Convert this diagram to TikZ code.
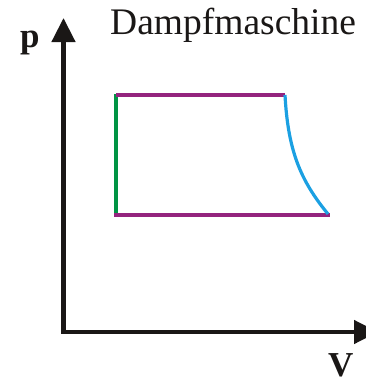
\documentclass[tikz,border=0pt]{standalone}
\usepackage{fontspec}
\setmainfont{Liberation Serif}
\usetikzlibrary{arrows.meta}
\definecolor{axiscol}{RGB}{26,23,22}
\definecolor{purplecol}{RGB}{148,36,126}
\definecolor{greencol}{RGB}{0,148,68}
\definecolor{bluecol}{RGB}{27,160,226}
\begin{document}
\begin{tikzpicture}[x=1pt,y=-1pt,
  axis/.style={line width=4.5pt,draw=axiscol,line join=miter,
    {Triangle[width=23pt,length=24pt]}-{Triangle[width=23pt,length=24pt]}},
  isobar/.style={line width=4pt,draw=purplecol},
  isochor/.style={line width=4pt,draw=greencol},
  expansion/.style={line width=3.2pt,draw=bluecol},
  lbl/.style={inner sep=0pt,anchor=base west,text=axiscol}]
\useasboundingbox (0,0) rectangle (366,378);
\coordinate (ytip) at (63.5,18);
\coordinate (origin) at (63.5,332);
\coordinate (xtip) at (378,332);
\draw[axis] (ytip) -- (origin) -- (xtip);
\coordinate (A) at (116,94);
\coordinate (B) at (116,216);
\coordinate (C) at (116,95);
\coordinate (D) at (285,95);
\coordinate (E) at (114,215);
\coordinate (F) at (330,215);
\coordinate (G) at (328,214);
\draw[isochor] (A) -- (B);
\draw[isobar] (C) -- (D);
\draw[isobar] (E) -- (F);
\draw[expansion] (D) .. controls (288,150) and (300,180) .. (G);
\node[lbl,font=\fontsize{37.5}{40}\selectfont] (title) at (110,34) {Dampfmaschine};
\node[lbl,font=\fontsize{35}{40}\selectfont\bfseries] (plabel) at (20,47) {p};
\node[lbl,font=\fontsize{35}{40}\selectfont\bfseries] (vlabel) at (328,376) {V};
\end{tikzpicture}
\end{document}
